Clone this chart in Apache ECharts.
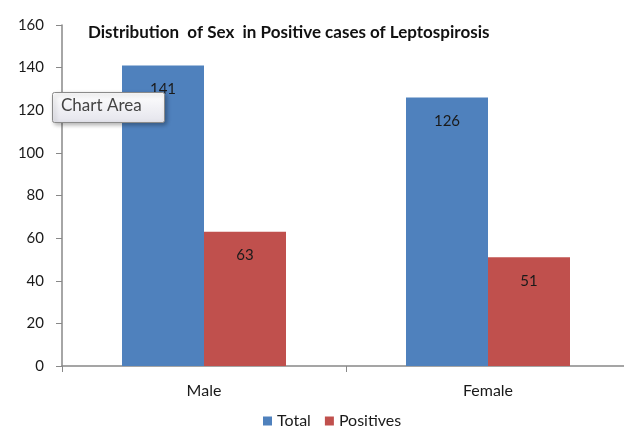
<!DOCTYPE html>
<html><head><meta charset="utf-8">
<script src="https://cdn.jsdelivr.net/npm/echarts@6/dist/echarts.min.js"></script>
<style>html,body{margin:0;padding:0;background:#fff;overflow:hidden}#c{width:630px;height:434px}</style>
</head><body><div id="c"></div>
<script>
const categories = ['Male', 'Female'];
const totalValues = [141, 126];
const positiveValues = [63, 51];
const yTicks = [0, 20, 40, 60, 80, 100, 120, 140, 160];
const titleText = 'Distribution  of Sex  in Positive cases of Leptospirosis';

const chart = echarts.init(document.getElementById('c'), null, {renderer: 'canvas'});
const fontFam = 'Lato, "Open Sans", sans-serif';
const lbl = {show: true, position: 'insideTop', distance: 16, color: '#1a1a1a', fontSize: 15, fontFamily: fontFam};
chart.setOption({
  animation: false,
  title: {text: titleText, left: 83, top: 19, textStyle: {fontSize: 17, fontWeight: 'bold', color: '#111', fontFamily: fontFam}},
  grid: {left: 62, top: 25, right: 0, bottom: 68, containLabel: false},
  legend: {bottom: 0, left: 258, itemWidth: 9, itemHeight: 9, itemGap: 14, icon: 'rect',
    textStyle: {fontSize: 16, color: '#1a1a1a', fontFamily: fontFam}, data: ['Total', 'Positives']},
  xAxis: {type: 'category', data: categories,
    axisLine: {lineStyle: {color: '#888', width: 1.5}},
    axisTick: {show: true, length: 6, lineStyle: {color: '#888'}},
    axisLabel: {fontSize: 16, color: '#1a1a1a', margin: 17, fontFamily: fontFam}},
  yAxis: {type: 'value', min: yTicks[0], max: yTicks[yTicks.length - 1], interval: 20,
    axisLine: {show: true, lineStyle: {color: '#888', width: 1.5}},
    axisTick: {show: true, length: 6, lineStyle: {color: '#888'}},
    splitLine: {show: false},
    axisLabel: {fontSize: 15, color: '#1a1a1a', margin: 18, fontFamily: fontFam}},
  series: [
    {name: 'Total', type: 'bar', data: totalValues, barWidth: 82, barGap: '0%', itemStyle: {color: '#4f81bd'}, label: lbl},
    {name: 'Positives', type: 'bar', data: positiveValues, barWidth: 82, itemStyle: {color: '#c0504d'}, label: lbl}
  ],
  graphic: [
    {type: 'rect', left: 52, top: 92, z: 100, zlevel: 1, shape: {width: 112, height: 30, r: 2},
     style: {fill: new echarts.graphic.LinearGradient(0, 0, 0, 1, [{offset: 0, color: '#ffffff'}, {offset: 1, color: '#e4e4ec'}]),
             stroke: '#8a8a8a', lineWidth: 1, shadowBlur: 4, shadowOffsetX: 2, shadowOffsetY: 2, shadowColor: 'rgba(0,0,0,0.3)'}},
    {type: 'text', left: 61, top: 97, z: 101, zlevel: 1, style: {text: 'Chart Area', fontSize: 17, fill: '#444', fontFamily: fontFam}}
  ]
});
</script></body></html>
